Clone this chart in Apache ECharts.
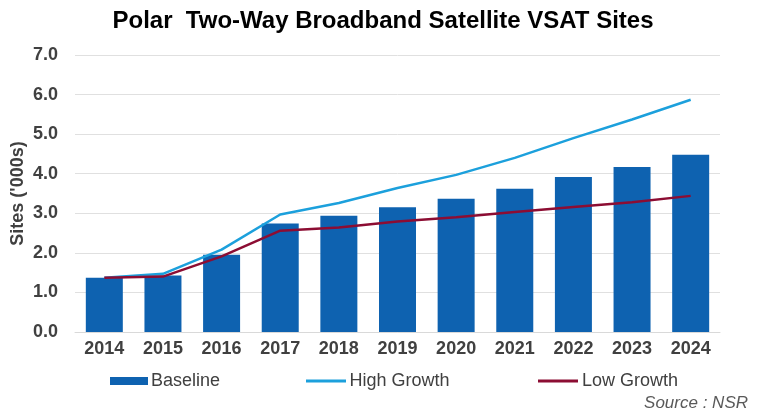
<!DOCTYPE html>
<html>
<head>
<meta charset="utf-8">
<script src="https://cdn.jsdelivr.net/npm/echarts@6/dist/echarts.min.js"></script>
<style>
  html, body { margin: 0; padding: 0; background: #fff; }
  #chart { width: 766px; height: 413px; }
</style>
</head>
<body>
<div id="chart"></div>
<script>
// years on the x axis
const years = ['2014', '2015', '2016', '2017', '2018', '2019', '2020', '2021', '2022', '2023', '2024'];
// sites in thousands
const baseline = [1.37, 1.43, 1.95, 2.74, 2.94, 3.15, 3.37, 3.62, 3.92, 4.17, 4.48];
const highGrowth = [1.37, 1.47, 2.08, 2.97, 3.26, 3.64, 3.97, 4.40, 4.90, 5.37, 5.87];
const lowGrowth = [1.37, 1.40, 1.91, 2.56, 2.64, 2.79, 2.90, 3.03, 3.16, 3.28, 3.44];

const chart = echarts.init(document.getElementById('chart'));

const labelFont = 'Liberation Sans, Arial, sans-serif';
const lineIcon = 'path://M0,0 L40,0 L40,3 L0,3 Z';

// one legend per item so each sits where the reference puts it
function legendAt(left, name, icon, w, h) {
    return {
        left: left,
        top: 367,
        itemWidth: w,
        itemHeight: h,
        itemGap: 0,
        textStyle: {
            fontFamily: labelFont,
            fontSize: 18,
            color: '#404040',
            padding: [0, 0, 0, -2]
        },
        data: [{ name: name, icon: icon }]
    };
}

const option = {
    animation: false,
    title: [
        {
            text: 'Polar  Two-Way Broadband Satellite VSAT Sites',
            left: 'center',
            top: 4,
            textStyle: {
                fontFamily: labelFont,
                fontWeight: 'bold',
                fontSize: 24,
                color: '#000'
            }
        },
        {
            text: 'Source : NSR',
            right: 13,
            top: 390,
            textStyle: {
                fontFamily: labelFont,
                fontStyle: 'italic',
                fontWeight: 'normal',
                fontSize: 17,
                color: '#595959'
            }
        }
    ],
    legend: [
        legendAt(105, 'Baseline', 'rect', 38, 8),
        legendAt(301, 'High Growth', lineIcon, 41, 3),
        legendAt(533, 'Low Growth', lineIcon, 42, 3)
    ],
    grid: {
        left: 75,
        right: 46,
        top: 55,
        bottom: 81,
        outerBoundsMode: 'none'
    },
    xAxis: {
        type: 'category',
        data: years,
        axisLine: { show: true, lineStyle: { color: '#d9d9d9' } },
        axisTick: { show: false },
        axisLabel: {
            fontFamily: labelFont,
            fontWeight: 'bold',
            fontSize: 18,
            color: '#404040',
            margin: 8
        }
    },
    yAxis: {
        type: 'value',
        min: 0,
        max: 7,
        interval: 1,
        name: "Sites ('000s)",
        nameLocation: 'middle',
        nameGap: 48,
        nameMoveOverlap: false,
        nameTextStyle: {
            fontFamily: labelFont,
            fontWeight: 'bold',
            fontSize: 18,
            color: '#404040'
        },
        axisLine: { show: false },
        axisTick: { show: false },
        splitLine: { lineStyle: { color: '#e0e0e0' } },
        axisLabel: {
            fontFamily: labelFont,
            fontWeight: 'bold',
            fontSize: 18,
            color: '#404040',
            margin: 17,
            formatter: v => v.toFixed(1)
        }
    },
    series: [
        {
            name: 'Baseline',
            type: 'bar',
            data: baseline,
            barWidth: 37,
            itemStyle: { color: '#0E62B0' }
        },
        {
            name: 'High Growth',
            type: 'line',
            data: highGrowth,
            symbol: 'none',
            smooth: false,
            lineStyle: { color: '#1CA0DC', width: 2.5 },
            itemStyle: { color: '#1CA0DC' }
        },
        {
            name: 'Low Growth',
            type: 'line',
            data: lowGrowth,
            symbol: 'none',
            lineStyle: { color: '#8C0D33', width: 2.5 },
            itemStyle: { color: '#8C0D33' }
        }
    ]
};

chart.setOption(option);
</script>
</body>
</html>
